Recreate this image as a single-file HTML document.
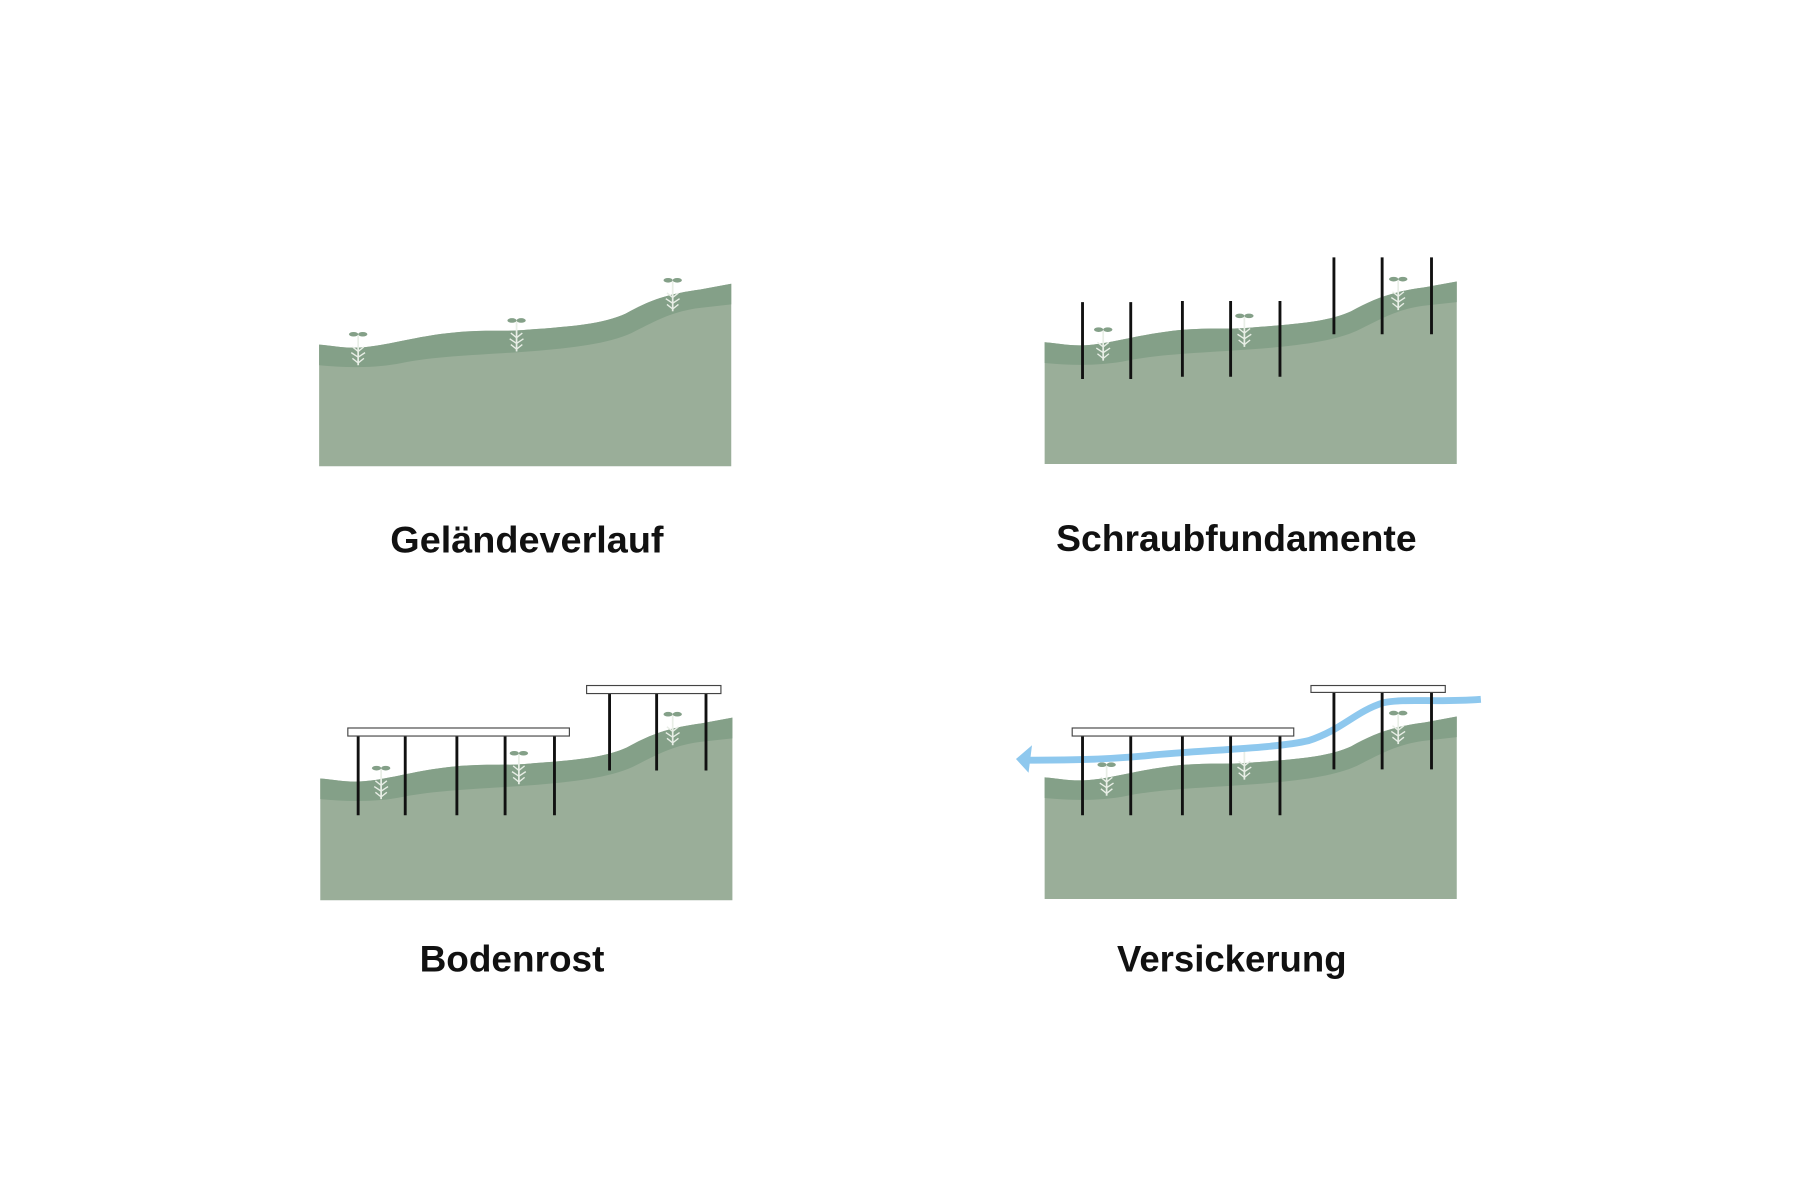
<!DOCTYPE html>
<html><head><meta charset="utf-8"><style>html,body{margin:0;padding:0;background:#fff}svg{display:block}</style></head>
<body>
<svg width="1800" height="1200" viewBox="0 0 1568 1045" xmlns="http://www.w3.org/2000/svg">
<defs>
<g id="ground">
<path d="M278,300 C292,301 302,304 320,302 C345,299 365,292 400,289 C430,287 440,289 460,287 C500,284 525,282 545,273 C565,262 580,256 610,252 L637,247 L637,406 L278,406 Z" fill="#9aae99"/>
<path d="M278,300 C292,301 302,304 320,302 C345,299 365,292 400,289 C430,287 440,289 460,287 C500,284 525,282 545,273 C565,262 580,256 610,252 L637,247 L637,265 L610,268 C585,271 570,280 550,290 C530,299 500,303 460,306 C420,309 380,310 350,316 C325,321 300,320 278,318 Z" fill="#84a088"/>
</g>
<g id="sprout">
<path d="M0,0 L0,26" stroke="#e8eee6" stroke-width="1.5"/>
<path d="M-5,10 L0,14 L5,10 M-6,15 L0,19 L6,15 M-5,20 L0,24 L5,20" stroke="#e8eee6" stroke-width="1.2" fill="none"/>
<ellipse cx="-4" cy="-1" rx="4" ry="2" fill="#84a088"/>
<ellipse cx="4" cy="-1" rx="4" ry="2" fill="#84a088"/>
</g>
</defs>
<g font-family="Liberation Sans, sans-serif" font-weight="bold" font-size="32" fill="#111" text-anchor="middle">
<text x="459" y="481" textLength="238" lengthAdjust="spacingAndGlyphs">Geländeverlauf</text>
<text x="1077" y="480" textLength="314" lengthAdjust="spacingAndGlyphs">Schraubfundamente</text>
<text x="446" y="846" textLength="161" lengthAdjust="spacingAndGlyphs">Bodenrost</text>
<text x="1073" y="846" textLength="200" lengthAdjust="spacingAndGlyphs">Versickerung</text>
</g>
<use href="#ground"/>
<use href="#sprout" x="312" y="292"/><use href="#sprout" x="450" y="280"/><use href="#sprout" x="586" y="245"/>
<g transform="translate(632,-2)"><use href="#ground"/></g>
<use href="#sprout" x="961" y="288"/><use href="#sprout" x="1084" y="276"/><use href="#sprout" x="1218" y="244"/>
<g stroke="#111" stroke-width="2.5">
<path d="M943,263V330M985,263V330M1030,262V328M1072,262V328M1115,262V328M1162,224V291M1204,224V291M1247,224V291"/>
</g>
<g transform="translate(1,378)"><use href="#ground"/></g>
<use href="#sprout" x="332" y="670"/><use href="#sprout" x="452" y="657"/><use href="#sprout" x="586" y="623"/>
<g stroke="#111" stroke-width="2.5">
<path d="M312,641V710M353,641V710M398,641V710M440,641V710M483,641V710M531,604V671M572,604V671M615,604V671"/>
</g>
<rect x="303" y="634" width="193" height="7" fill="#fff" stroke="#444" stroke-width="1"/>
<rect x="511" y="597" width="117" height="7" fill="#fff" stroke="#444" stroke-width="1"/>
<g transform="translate(632,377)"><use href="#ground"/></g>
<use href="#sprout" x="964" y="667"/><use href="#sprout" x="1084" y="653"/><use href="#sprout" x="1218" y="622"/>
<path d="M1290,609 C1250,612 1225,608 1205,612 C1180,620 1170,635 1140,645 C1110,652 1050,653 1000,658 C960,662 920,662 895,662" stroke="#8ec8ee" stroke-width="6" fill="none"/>
<polygon points="885,661 899,649 896,673" fill="#8ec8ee"/>
<g stroke="#111" stroke-width="2.5">
<path d="M943,641V710M985,641V710M1030,641V710M1072,641V710M1115,641V710M1162,603V670M1204,603V670M1247,603V670"/>
</g>
<rect x="934" y="634" width="193" height="7" fill="#fff" stroke="#444" stroke-width="1"/>
<rect x="1142" y="597" width="117" height="6" fill="#fff" stroke="#444" stroke-width="1"/>
</svg>
</body></html>
